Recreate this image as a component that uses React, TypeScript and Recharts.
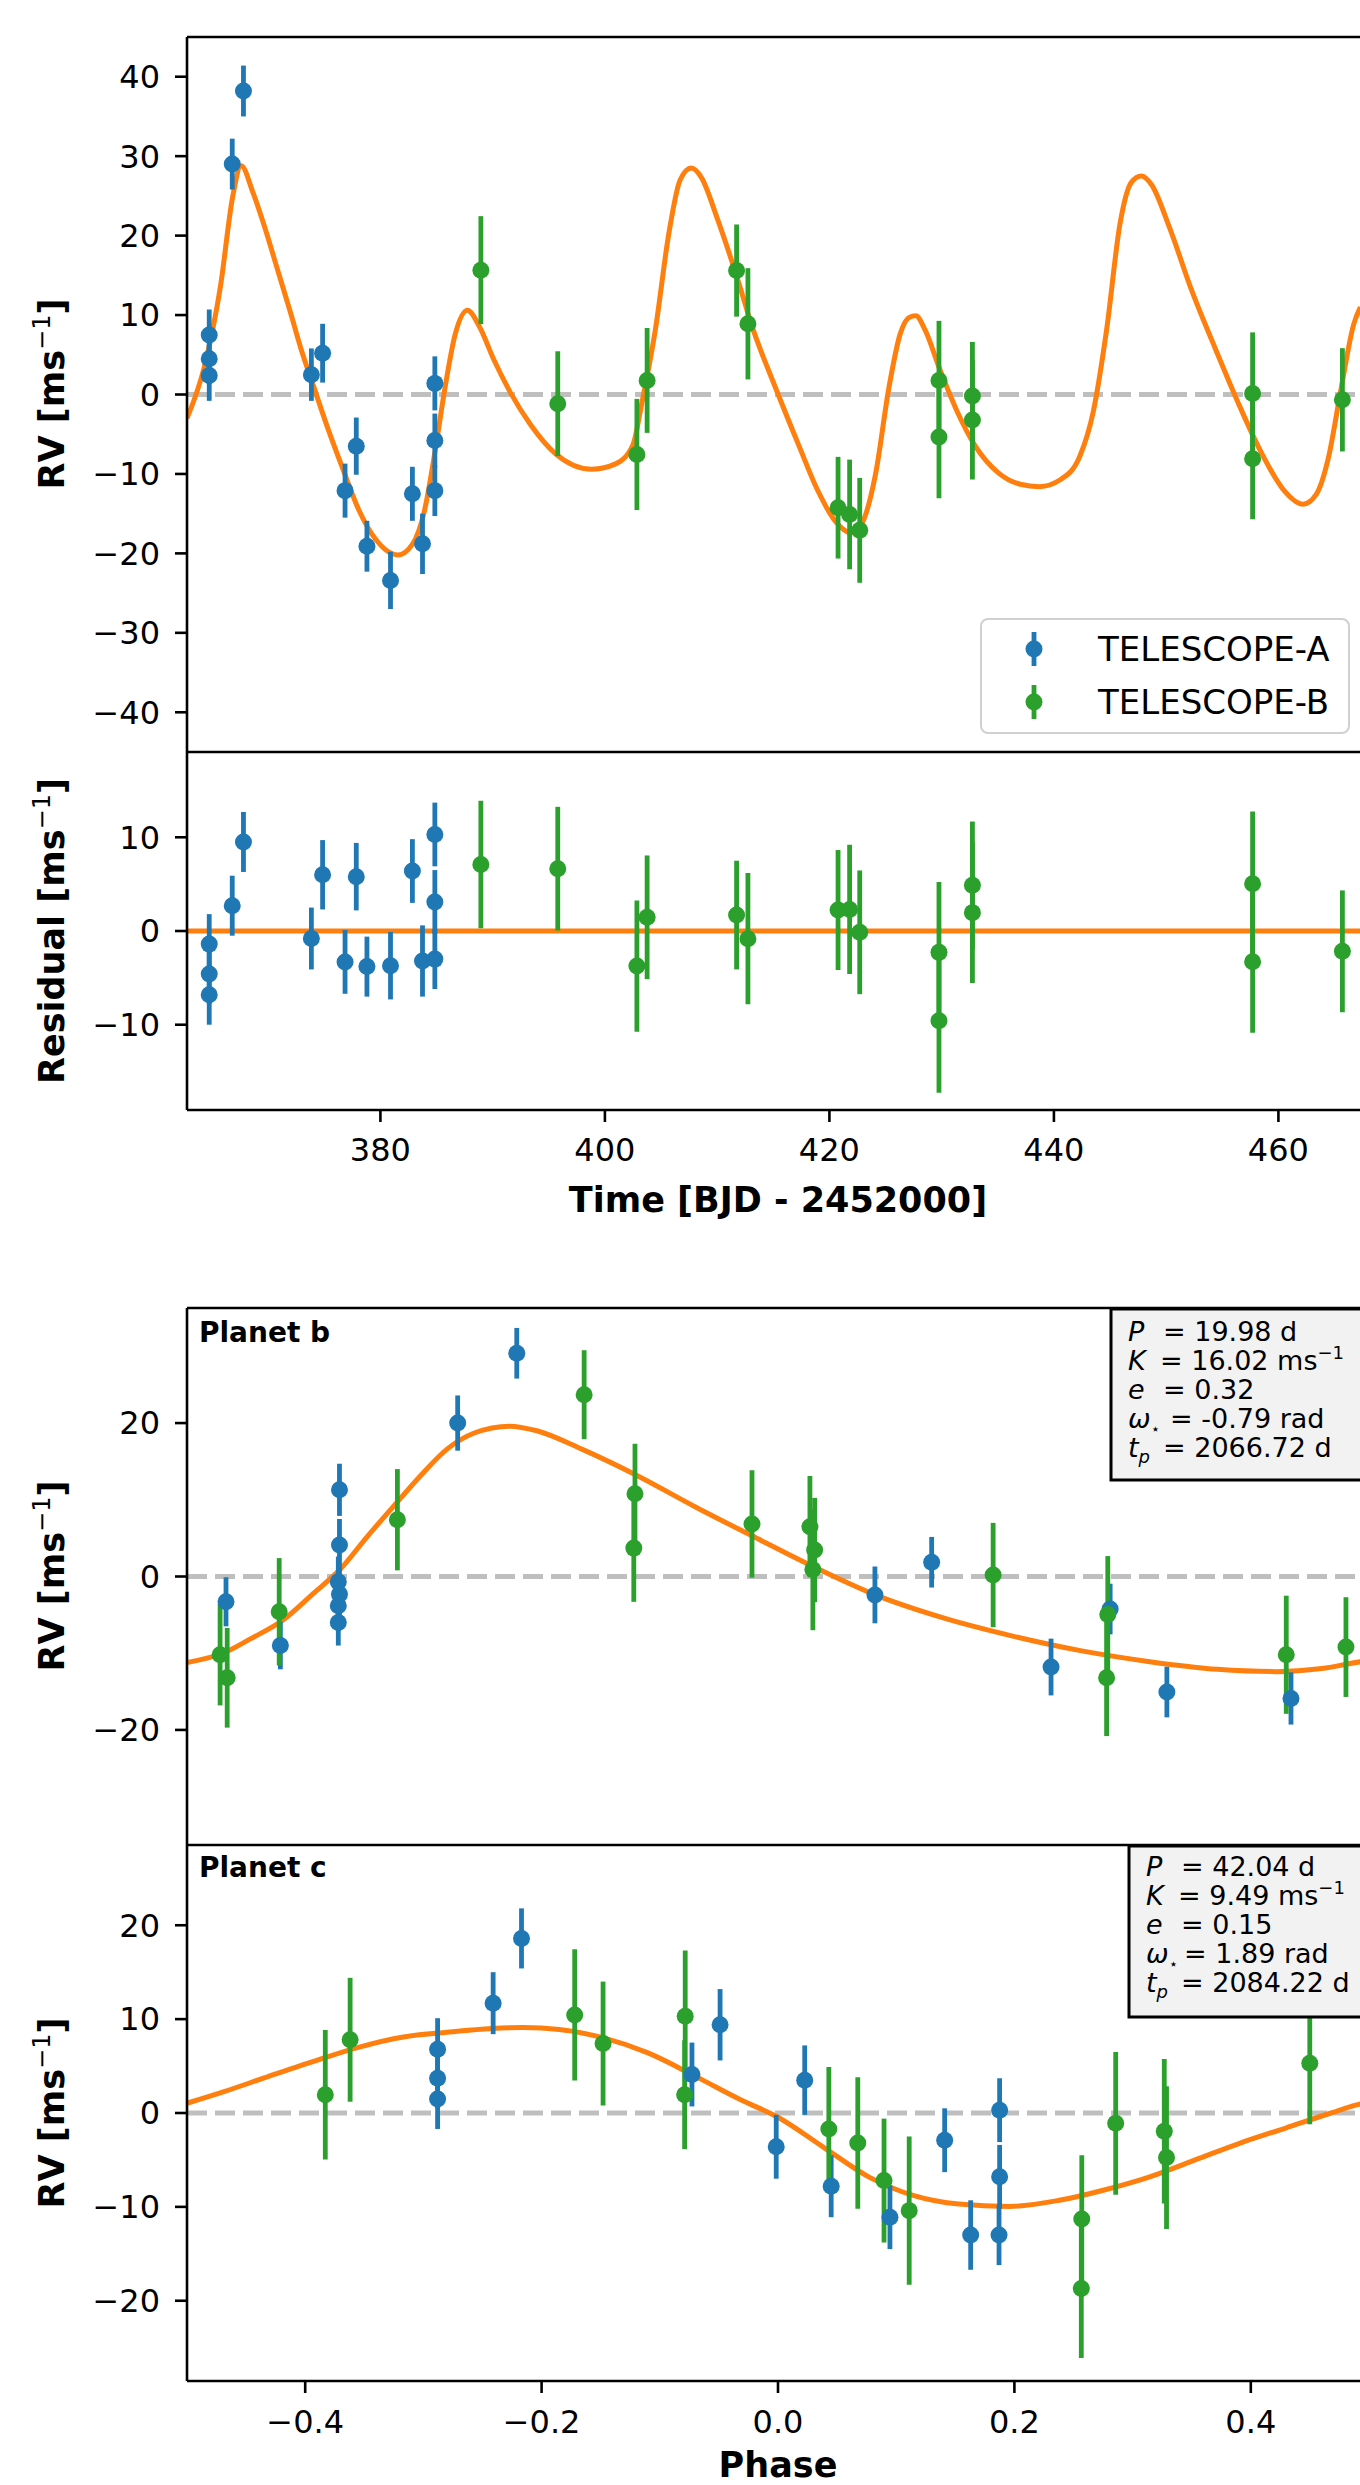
import React from 'react';
import { ComposedChart, Line, Scatter, ErrorBar, XAxis, YAxis, ReferenceLine, Legend } from 'recharts';

const FONT = '"DejaVu Sans", sans-serif';
const BLUE = '#1f77b4';
const GREEN = '#2ca02c';
const ORANGE = '#ff7f0e';
const ZERO = '#bfbfbf';

// ---- RV vs time (top + residual) ----
const timeDomain: [number, number] = [362.77, 468.07];
const timeTicks = [380, 400, 420, 440, 460];
const rvTicks = [-40, -30, -20, -10, 0, 10, 20, 30, 40];
const resTicks = [-10, 0, 10];

const timeA = [364.75, 364.75, 364.75, 366.8, 367.8, 373.85, 374.85, 376.85, 377.85, 378.8, 380.9, 382.85, 383.75, 384.85, 384.85, 384.85];
const rvA = [7.5, 4.5, 2.4, 29.0, 38.2, 2.5, 5.2, -12.1, -6.5, -19.1, -23.4, -12.5, -18.8, 1.4, -5.8, -12.1];
const errA = [3.2, 3.2, 3.2, 3.2, 3.2, 3.3, 3.7, 3.4, 3.6, 3.2, 3.6, 3.4, 3.8, 3.4, 3.4, 3.2];
const resA = [-1.4, -4.6, -6.8, 2.7, 9.5, -0.8, 6.0, -3.3, 5.8, -3.8, -3.7, 6.4, -3.2, 10.3, 3.1, -3.0];

const timeB = [388.95, 395.8, 402.85, 403.76, 411.73, 412.74, 420.77, 421.8, 422.7, 429.76, 429.76, 432.74, 432.74, 457.7, 457.7, 465.7];
const rvB = [15.65, -1.16, -7.55, 1.77, 15.6, 8.9, -14.25, -15.1, -17.1, 1.77, -5.36, -0.18, -3.2, 0.12, -8.1, -0.67];
const errB = [6.8, 6.6, 7.0, 6.6, 5.8, 7.0, 6.4, 6.9, 6.6, 7.5, 7.7, 6.8, 7.5, 7.7, 7.6, 6.5];
const resB = [7.1, 6.65, -3.74, 1.46, 1.7, -0.82, 2.24, 2.3, -0.14, -2.28, -9.57, 4.88, 1.96, 5.05, -3.27, -2.17];

const modelTime = [362.77, 364.3, 365.75, 366.84, 367.6, 368.65, 369.75, 370.84, 371.93, 373.0, 374.1, 375.2, 376.66, 378.1, 379.56, 381.57, 382.83, 383.93, 384.84, 385.75, 386.65, 387.74, 388.84, 390.1, 391.56, 393.38, 395.56, 398.83, 401.0, 402.48, 403.3, 404.5, 405.7, 406.7, 407.7, 408.6, 410.0, 411.6, 413.2, 415.2, 417.3, 418.9, 420.5, 421.9, 422.9, 424.1, 425.3, 426.3, 427.1, 427.7, 428.5, 429.8, 431.4, 433.0, 435.0, 437.0, 438.7, 440.6, 442.3, 443.5, 444.7, 445.9, 446.9, 447.8, 448.7, 450.3, 452.3, 454.4, 456.4, 458.4, 460.4, 462.2, 463.4, 464.4, 465.6, 466.7, 467.3];
const modelRv = [-3.0, 3.4, 13.6, 24.9, 28.8, 25.4, 20.8, 15.7, 10.6, 5.4, 0.8, -3.8, -9.4, -14.6, -18.2, -20.2, -18.9, -14.6, -7.4, 0.8, 7.5, 10.6, 8.5, 4.4, 0.3, -3.8, -7.4, -9.4, -8.7, -6.4, -1.0, 8.2, 20.3, 27.0, 28.5, 27.3, 22.2, 15.5, 8.2, 0.85, -6.5, -11.9, -15.9, -17.4, -16.2, -10.1, 0.85, 7.6, 9.7, 9.9, 8.2, 3.3, -2.2, -6.5, -9.8, -11.3, -11.6, -10.7, -7.8, -2.2, 8.2, 21.6, 26.7, 27.5, 26.4, 21.0, 13.0, 5.7, -1.0, -7.1, -11.9, -13.8, -12.5, -8.3, 0.85, 8.8, 11.0];

// ---- phase folded ----
const phaseDomain: [number, number] = [-0.5, 0.5];
const phaseTicks = [-0.4, -0.2, 0, 0.2, 0.4];
const bTicks = [-20, 0, 20];
const cTicks = [-20, -10, 0, 10, 20];

const bPhaseA = [-0.467, -0.421, -0.371, -0.371, -0.372, -0.371, -0.372, -0.372, -0.271, -0.221, 0.082, 0.130, 0.231, 0.281, 0.329, 0.434];
const bRvA = [-3.3, -9.0, 11.3, 4.1, -0.7, -2.3, -3.8, -6.0, 20.0, 29.1, -2.4, 1.86, -11.8, -4.24, -15.06, -15.9];
const bErrA = [3.2, 3.1, 3.4, 3.4, 3.3, 3.3, 3.3, 3.0, 3.6, 3.3, 3.7, 3.3, 3.7, 3.3, 3.3, 3.4];
const bPhaseB = [-0.472, -0.466, -0.422, -0.322, -0.164, -0.121, -0.122, -0.022, 0.027, 0.031, 0.0295, 0.182, 0.279, 0.278, 0.430, 0.4805];
const bRvB = [-10.2, -13.2, -4.6, 7.4, 23.7, 10.8, 3.7, 6.85, 6.5, 3.45, 0.9, 0.19, -4.94, -13.2, -10.2, -9.2];
const bErrB = [6.6, 6.5, 7.0, 6.6, 5.8, 6.5, 7.0, 7.0, 6.6, 6.8, 7.9, 6.8, 7.6, 7.6, 7.7, 6.5];
const bModelPhase = [-0.5, -0.468, -0.446, -0.419, -0.393, -0.37, -0.3475, -0.325, -0.302, -0.28, -0.257, -0.227, -0.204, -0.166, -0.121, -0.069, -0.022, 0.027, 0.084, 0.142, 0.1994, 0.257, 0.3145, 0.372, 0.422, 0.46, 0.494, 0.5];
const bModelRv = [-11.2, -9.9, -8.1, -5.7, -2.2, 1.0, 5.2, 9.2, 13.2, 16.6, 18.7, 19.6, 19.0, 16.6, 13.3, 9.0, 5.3, 1.5, -2.5, -5.5, -7.8, -9.7, -11.1, -12.1, -12.4, -12.0, -11.1, -11.0];

const cPhaseA = [-0.288, -0.288, -0.288, -0.241, -0.217, -0.0728, -0.049, -0.0015, 0.0226, 0.045, 0.0947, 0.141, 0.163, 0.1875, 0.1875, 0.187];
const cRvA = [6.8, 3.7, 1.5, 11.7, 18.6, 4.1, 9.4, -3.6, 3.5, -7.8, -11.1, -2.9, -13.0, 0.3, -6.8, -13.0];
const cErrA = [3.3, 3.2, 3.2, 3.3, 3.2, 3.4, 3.8, 3.4, 3.7, 3.3, 3.4, 3.4, 3.7, 3.4, 3.4, 3.2];
const cPhaseB = [-0.383, -0.362, -0.172, -0.148, -0.0785, -0.079, 0.043, 0.0675, 0.0897, 0.111, 0.257, 0.2566, 0.2857, 0.3268, 0.3287, 0.4499];
const cRvB = [1.95, 7.8, 10.45, 7.4, 10.3, 1.95, -1.7, -3.2, -7.2, -10.4, -11.3, -18.7, -1.1, -1.95, -4.75, 5.3];
const cErrB = [6.9, 6.6, 7.0, 6.6, 7.0, 5.8, 6.6, 7.0, 6.6, 7.9, 6.8, 7.4, 7.6, 7.7, 7.6, 6.5];
const cModelPhase = [-0.5, -0.468, -0.431, -0.393, -0.355, -0.317, -0.28, -0.242, -0.2155, -0.185, -0.1475, -0.11, -0.069, -0.0307, 0, 0.038, 0.0767, 0.115, 0.153, 0.1956, 0.238, 0.276, 0.3145, 0.353, 0.391, 0.4295, 0.468, 0.494, 0.5];
const cModelRv = [1.04, 2.3, 3.9, 5.5, 7.0, 8.1, 8.6, 9.0, 9.1, 8.9, 8.0, 6.4, 3.85, 1.36, -0.45, -3.6, -6.8, -8.8, -9.7, -9.95, -9.3, -8.2, -6.8, -5.0, -3.2, -1.6, 0, 1.0, 1.1];

const seriesNames = ['TELESCOPE-A', 'TELESCOPE-B'];
const paramsB = ['19.98 d', '16.02', '0.32', '-0.79 rad', '2066.72 d'];
const paramsC = ['42.04 d', '9.49', '0.15', '1.89 rad', '2084.22 d'];

type Pt = { x: number; y: number; e: number };
const pts = (xs: number[], ys: number[], es?: number[]): Pt[] =>
  xs.map((x, i) => ({ x, y: ys[i], e: es ? es[i] : 0 }));

const fmt = (v: number) => (v < 0 ? '\u2212' + Math.abs(v) : String(v));
const fmtPhase = (v: number) => {
  const s = Math.abs(v).toFixed(1);
  return v < -1e-9 ? '\u2212' + s : s;
};

const axisStroke = { stroke: '#000', strokeWidth: 2.6 };
const tickStyle = { fill: '#000', fontSize: 32, fontFamily: FONT };

const dot = (color: string) => (p: any) => <circle cx={p.cx} cy={p.cy} r={8.5} fill={color} />;

const renderLegend = (props: any) => {
  const items = (props.payload || []).filter((it: any) => it.type !== 'none');
  return (
    <div
      style={{
        width: 370,
        height: 116,
        boxSizing: 'border-box',
        border: '2.5px solid #d0d0d0',
        borderRadius: 8,
        background: 'rgba(255,255,255,0.8)',
        position: 'relative',
        fontFamily: FONT,
      }}
    >
      {items.map((it: any, i: number) => (
        <div
          key={it.value}
          style={{ position: 'absolute', left: 0, top: 9 + 53 * i, height: 40, display: 'flex', alignItems: 'center' }}
        >
          <svg width={104} height={40}>
            <line x1={52} x2={52} y1={3} y2={37} stroke={it.color} strokeWidth={4.8} />
            <circle cx={52} cy={20} r={8.5} fill={it.color} />
          </svg>
          <span style={{ fontSize: 34, marginLeft: 12, color: '#000', whiteSpace: 'nowrap' }}>{it.value}</span>
        </div>
      ))}
    </div>
  );
};

type PanelProps = {
  top: number;
  height: number;
  marginTop: number;
  marginBottom: number;
  xDomain: [number, number];
  xTicks: number[];
  xFmt: (v: number) => string;
  showX: boolean;
  xAxisHeight?: number;
  xTickMargin?: number;
  yDomain: [number, number];
  yTicks: number[];
  model?: Pt[];
  a: Pt[];
  b: Pt[];
  residual?: boolean;
  legend?: boolean;
};

function Panel(p: PanelProps) {
  return (
    <div style={{ position: 'absolute', left: 0, top: p.top }}>
      <ComposedChart width={1382} height={p.height} margin={{ top: p.marginTop, right: 13, bottom: p.marginBottom, left: 67 }}>
        <XAxis
          dataKey="x"
          type="number"
          domain={p.xDomain}
          ticks={p.xTicks}
          allowDataOverflow
          hide={!p.showX}
          height={p.xAxisHeight ?? 30}
          interval={0}
          tickFormatter={p.xFmt}
          tick={tickStyle}
          tickSize={12}
          tickMargin={p.xTickMargin ?? 16}
          axisLine={axisStroke}
          tickLine={axisStroke}
        />
        <YAxis
          dataKey="y"
          type="number"
          domain={p.yDomain}
          ticks={p.yTicks}
          allowDataOverflow
          width={120}
          interval={0}
          tickFormatter={fmt}
          tick={tickStyle}
          tickSize={12}
          tickMargin={15}
          axisLine={axisStroke}
          tickLine={axisStroke}
        />
        {/* top spine of the panel */}
        <ReferenceLine y={p.yDomain[1]} stroke="#000" strokeWidth={2.6} />
        {p.residual ? (
          <ReferenceLine y={0} stroke={ORANGE} strokeWidth={5} />
        ) : (
          <ReferenceLine y={0} stroke={ZERO} strokeWidth={5} strokeDasharray="20 8" />
        )}
        {p.model && (
          <Line
            data={p.model}
            dataKey="y"
            type="monotone"
            stroke={ORANGE}
            strokeWidth={5}
            dot={false}
            activeDot={false}
            legendType="none"
            isAnimationActive={false}
          />
        )}
        <Scatter name={seriesNames[0]} data={p.a} fill={BLUE} shape={dot(BLUE)} isAnimationActive={false}>
          <ErrorBar dataKey="e" direction="y" width={0} stroke={BLUE} strokeWidth={4.8} isAnimationActive={false} />
        </Scatter>
        <Scatter name={seriesNames[1]} data={p.b} fill={GREEN} shape={dot(GREEN)} isAnimationActive={false}>
          <ErrorBar dataKey="e" direction="y" width={0} stroke={GREEN} strokeWidth={4.8} isAnimationActive={false} />
        </Scatter>
        {p.legend && (
          <Legend
            layout="horizontal"
            verticalAlign="middle"
            align="center"
            content={renderLegend}
            wrapperStyle={{ left: 980, top: 618, width: 370, height: 116 }}
          />
        )}
      </ComposedChart>
    </div>
  );
}

const YLabel = ({ cy, text }: { cy: number; text: string }) => (
  <text x={64} y={cy} transform={`rotate(-90 64 ${cy})`} textAnchor="middle" fontSize={35} fontWeight="bold">
    {text} [ms
    <tspan fontWeight="normal" fontSize={24} dy={-14}>
      {'\u22121'}
    </tspan>
    <tspan dy={14}>]</tspan>
  </text>
);

const eqOffsets = [35, 32, 35, 42, 35];

function ParamBox({ x, y, tx, base, vals, tight }: { x: number; y: number; tx: number; base: number; vals: string[]; tight?: boolean }) {
  const step = 29;
  const offs = eqOffsets.map((o, i) => (tight && i === 3 ? 38 : o));
  return (
    <g fontSize={27}>
      <rect x={x} y={y} width={300} height={171} fill="#f2f2f2" stroke="#000" strokeWidth={3} />
      <text x={tx} y={base} fontStyle="italic">P</text>
      <text x={tx + offs[0]} y={base}>= {vals[0]}</text>
      <text x={tx} y={base + step} fontStyle="italic">K</text>
      <text x={tx + offs[1]} y={base + step}>
        = {vals[1]} ms
        <tspan fontSize={18} dy={-11}>{'\u22121'}</tspan>
      </text>
      <text x={tx} y={base + 2 * step} fontStyle="italic">e</text>
      <text x={tx + offs[2]} y={base + 2 * step}>= {vals[2]}</text>
      <text x={tx} y={base + 3 * step}>
        <tspan fontStyle="italic">ω</tspan>
        <tspan fontSize={15} dy={6}>⋆</tspan>
      </text>
      <text x={tx + offs[3]} y={base + 3 * step}>= {vals[3]}</text>
      <text x={tx} y={base + 4 * step}>
        <tspan fontStyle="italic">t</tspan>
        <tspan fontStyle="italic" fontSize={18} dy={6}>p</tspan>
      </text>
      <text x={tx + offs[4]} y={base + 4 * step}>= {vals[4]}</text>
    </g>
  );
}

export default function App() {
  const model = pts(modelTime, modelRv);
  const bModel = pts(bModelPhase, bModelRv);
  const cModel = pts(cModelPhase, cModelRv);
  return (
    <div style={{ position: 'absolute', left: 0, top: 0, width: 1360, height: 2485, overflow: 'hidden', background: '#fff' }}>
      <Panel
        top={0}
        height={770}
        marginTop={37}
        marginBottom={18}
        xDomain={timeDomain}
        xTicks={timeTicks}
        xFmt={fmt}
        showX={false}
        yDomain={[-45, 45]}
        yTicks={rvTicks}
        model={model}
        a={pts(timeA, rvA, errA)}
        b={pts(timeB, rvB, errB)}
        legend
      />
      <Panel
        top={700}
        height={500}
        marginTop={52}
        marginBottom={0}
        xDomain={timeDomain}
        xTicks={timeTicks}
        xFmt={fmt}
        showX
        xAxisHeight={90}
        xTickMargin={16}
        yDomain={[-19.1, 19.1]}
        yTicks={resTicks}
        a={pts(timeA, resA, errA)}
        b={pts(timeB, resB, errB)}
        residual
      />
      <Panel
        top={1270}
        height={600}
        marginTop={38}
        marginBottom={25}
        xDomain={phaseDomain}
        xTicks={phaseTicks}
        xFmt={fmtPhase}
        showX={false}
        yDomain={[-35, 35]}
        yTicks={bTicks}
        model={bModel}
        a={pts(bPhaseA, bRvA, bErrA)}
        b={pts(bPhaseB, bRvB, bErrB)}
      />
      <Panel
        top={1800}
        height={685}
        marginTop={45}
        marginBottom={4}
        xDomain={phaseDomain}
        xTicks={phaseTicks}
        xFmt={fmtPhase}
        showX
        xAxisHeight={100}
        xTickMargin={17}
        yDomain={[-28.55, 28.55]}
        yTicks={cTicks}
        model={cModel}
        a={pts(cPhaseA, cRvA, cErrA)}
        b={pts(cPhaseB, cRvB, cErrB)}
      />
      <svg
        width={1360}
        height={2485}
        style={{ position: 'absolute', left: 0, top: 0, pointerEvents: 'none' }}
        fontFamily={FONT}
        fill="#000"
      >
        <YLabel cy={394} text="RV" />
        <YLabel cy={931} text="Residual" />
        <YLabel cy={1576} text="RV" />
        <YLabel cy={2113} text="RV" />
        <text x={778} y={1212} textAnchor="middle" fontSize={35} fontWeight="bold">
          Time [BJD - 2452000]
        </text>
        <text x={778} y={2477} textAnchor="middle" fontSize={35} fontWeight="bold">
          Phase
        </text>
        <text x={199} y={1342} fontSize={28} fontWeight="bold">Planet b</text>
        <text x={199} y={1877} fontSize={28} fontWeight="bold">Planet c</text>
        <ParamBox x={1111} y={1309} tx={1128} base={1341} vals={paramsB} />
        <ParamBox x={1129} y={1846} tx={1146} base={1876} vals={paramsC} tight />
      </svg>
    </div>
  );
}
